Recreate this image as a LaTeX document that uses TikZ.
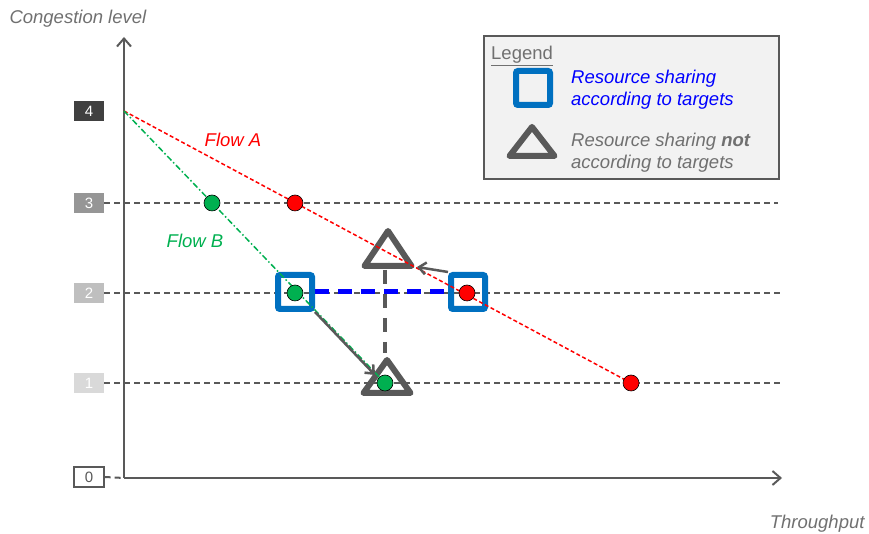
\documentclass[tikz,border=0pt]{standalone}
\usepackage{fontspec}
\setmainfont{Liberation Sans}
\usetikzlibrary{positioning, arrows.meta, calc}
\definecolor{axisgray}{HTML}{595959}
\definecolor{textgray}{HTML}{707070}
\definecolor{levfour}{HTML}{404040}
\definecolor{levthree}{HTML}{969696}
\definecolor{levtwo}{HTML}{BFBFBF}
\definecolor{levone}{HTML}{D9D9D9}
\definecolor{flowgreen}{HTML}{00B050}
\definecolor{sqblue}{HTML}{0070C0}
\definecolor{legendfill}{HTML}{F2F2F2}
\tikzset{
  level/.style={minimum width=30pt, minimum height=20pt, inner sep=0pt, text=white, font=\fontsize{15}{15}\selectfont},
  guide/.style={axisgray, line width=2pt, dash pattern=on 6pt off 4pt},
  axis/.style={axisgray, line width=2pt, -{Straight Barb[length=8pt, width=14pt]}},
  dot/.style={circle, draw=black, line width=0.6pt, minimum size=16pt, inner sep=0pt},
  target/.style={draw=sqblue, line width=6pt, rounded corners=2pt, minimum size=34pt, inner sep=0pt},
  notarget/.style={draw=axisgray, line width=6pt, line join=round},
  move/.style={axisgray, line width=2.5pt, -{Straight Barb[length=7pt, width=12pt]}},
  label/.style={font=\fontsize{18.5}{22}\selectfont\itshape},
}

\begin{document}
\begin{tikzpicture}[x=1pt, y=1pt, font=\fontsize{18.5}{22}\selectfont]
  \useasboundingbox (0,0) rectangle (869,534);
  % axes
  \coordinate (origin) at (124,56);
  \coordinate (ytop) at (124,497);
  \coordinate (xend) at (782,56);
  \node[textgray, label, anchor=west] (ylabel) at (6,515) {Congestion level};
  \node[textgray, label, anchor=east] (xlabel) at (868,10) {Throughput};

  % levels
  \node[level, fill=levfour] (l4) at (89,423) {4};
  \node[level, fill=levthree] (l3) at (89,331) {3};
  \node[level, fill=levtwo] (l2) at (89,241) {2};
  \node[level, fill=levone] (l1) at (89,151) {1};
  \node[level, fill=white, draw=axisgray, line width=1.2pt, text=axisgray] (l0) at (89,57) {0};
  \coordinate (e3) at (778,331);
  \coordinate (e2) at (782,241);
  \coordinate (e1) at (782,151);
  \draw[guide] (l3.east) -- (e3);
  \draw[guide] (l2.east) -- (e2);
  \draw[guide] (l1.east) -- (e1);
  \draw[guide] (l0.east) -- (origin);
  \draw[axis] (origin) -- (ytop);
  \draw[axis] (origin) -- (xend);

  % triangles
  \coordinate (t1) at (388,285);
  \coordinate (t2) at (387,157);
  \draw[notarget] ($(t1)+(0,18)$) -- ($(t1)+(23.5,-17)$) -- ($(t1)+(-23.5,-17)$) -- cycle;
  \draw[notarget] ($(t2)+(0,17)$) -- ($(t2)+(23.5,-16)$) -- ($(t2)+(-23.5,-16)$) -- cycle;
  \coordinate (t1s) at (385,264);
  \coordinate (t2n) at (385,181);
  \draw[axisgray, line width=4.5pt, dash pattern=on 14pt off 10pt] (t1s) -- (t2n);

  % squares
  \node[target] (sq1) at (295,242) {};
  \node[target] (sq2) at (468,242) {};
  \draw[blue, line width=5pt, dash pattern=on 14pt off 9pt] (sq1.east) -- (sq2.west);

  % flows
  \coordinate (start) at (124,423);
  \coordinate (A3) at (295,331);
  \coordinate (A2) at (467,241);
  \coordinate (A1) at (631,151);
  \coordinate (B3) at (212,331);
  \coordinate (B2) at (295,241);
  \coordinate (B1) at (385,151);
  \draw[red, line width=1.5pt, dash pattern=on 4pt off 2.5pt] (start) -- (A1);
  \draw[flowgreen, line width=1.5pt, dash pattern=on 6pt off 2.5pt on 1.5pt off 2.5pt] (start) -- (B1);
  \node[red, label] (flowa) at (233,394) {Flow A};
  \node[flowgreen, label] (flowb) at (195,293) {Flow B};

  % moves
  \coordinate (t2w) at (375,159);
  \coordinate (t1e) at (417,267);
  \draw[move] (sq1.south east) -- (t2w);
  \draw[move] (sq2.north west) -- (t1e);

  \node[dot, fill=red] (dA3) at (A3) {};
  \node[dot, fill=red] (dA2) at (A2) {};
  \node[dot, fill=red] (dA1) at (A1) {};
  \node[dot, fill=flowgreen] (dB3) at (B3) {};
  \node[dot, fill=flowgreen] (dB2) at (B2) {};
  \node[dot, fill=flowgreen] (dB1) at (B1) {};

  % legend
  \node[draw=axisgray, fill=legendfill, line width=2pt, minimum width=295pt, minimum height=143pt, inner sep=0pt] (legend) at (631.5,426.5) {};
  \node[textgray, anchor=west, inner sep=0pt] (legtitle) at (491,478) {\underline{Legend}};
  \node[target] (legsq) at (533,446) {};
  \coordinate (legtri) at (532,392);
  \draw[notarget] ($(legtri)+(0,15)$) -- ($(legtri)+(22.5,-14)$) -- ($(legtri)+(-22.5,-14)$) -- cycle;
  \node[blue, label, anchor=west, align=left, inner sep=0pt] (legtxt1) at (571,444) {Resource sharing\\according to targets};
  \node[textgray, label, anchor=west, align=left, inner sep=0pt] (legtxt2) at (571,381) {Resource sharing \textbf{not}\\according to targets};
\end{tikzpicture}
\end{document}
